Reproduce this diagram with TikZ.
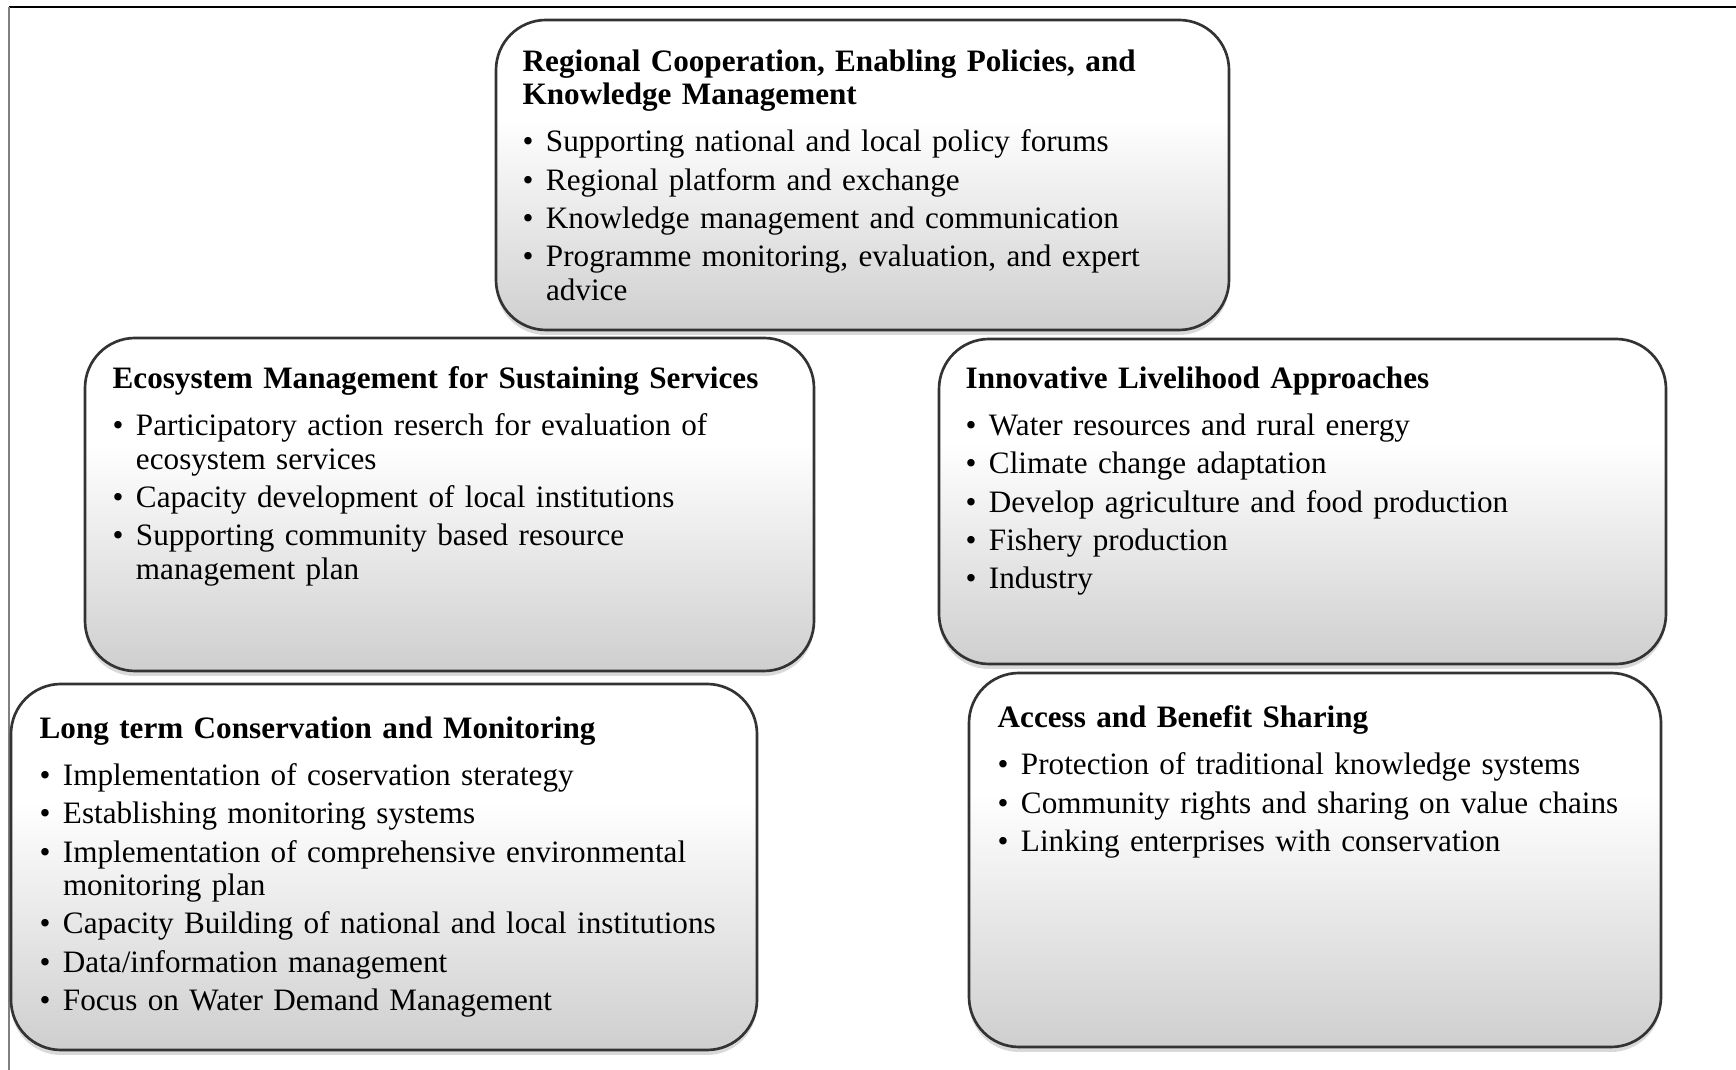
\documentclass[tikz,border=0pt]{standalone}
\usepackage{fontspec}
\setmainfont{Liberation Serif}
\usetikzlibrary{shadows}
\pgfdeclareverticalshading{cardshade}{100bp}{color(0bp)=(black!19); color(25bp)=(black!19); color(59bp)=(white); color(100bp)=(white)}
\newcommand{\cardtitle}[1]{\noindent{\bfseries #1}\par\vspace{4.2pt}}
\newcommand{\carditem}[1]{\hangindent=7pt\hangafter=1\noindent\makebox[7pt][l]{\textbullet}#1\par\vspace{1.5pt}}

\begin{document}
\begin{tikzpicture}[x=0.3pt, y=-0.3pt,
  card/.style={draw=black!80, line width=0.8pt, rounded corners=15pt, shading=cardshade,
    drop shadow={shadow xshift=0pt, shadow yshift=-1.5pt, opacity=0.3}},
  cardtext/.style={anchor=north west, inner sep=0pt, text width=#1,
    font=\fontsize{9.35pt}{10pt}\selectfont}]
  \useasboundingbox (0,0) rectangle (1736,1070);
  \draw[black, line width=0.4pt] (9,7) -- (1736,7);
  \draw[black!50, line width=0.6pt] (9,7) -- (9,1070);

  % top box
  \path[card] (496,20) rectangle (1229,330);
  \node[cardtext=208pt] (regional) at (522,49) {%
    \cardtitle{Regional Cooperation, Enabling Policies, and\newline Knowledge Management}
    \carditem{Supporting national and local policy forums}
    \carditem{Regional platform and exchange}
    \carditem{Knowledge management and communication}
    \carditem{Programme monitoring, evaluation, and expert\newline advice}};

  % middle row
  \path[card] (85,338) rectangle (814,671);
  \node[cardtext=207pt] (ecosystem) at (112,366) {%
    \cardtitle{Ecosystem Management for Sustaining Services}
    \carditem{Participatory action reserch for evaluation of\newline ecosystem services}
    \carditem{Capacity development of local institutions}
    \carditem{Supporting community based resource\newline management plan}};

  \path[card] (939,339) rectangle (1666,664);
  \node[cardtext=206pt] (livelihood) at (965,366) {%
    \cardtitle{Innovative Livelihood Approaches}
    \carditem{Water resources and rural energy}
    \carditem{Climate change adaptation}
    \carditem{Develop agriculture and food production}
    \carditem{Fishery production}
    \carditem{Industry}};

  % bottom row
  \path[card] (11,684) rectangle (757,1050);
  \node[cardtext=212pt] (conservation) at (39,716) {%
    \cardtitle{Long term Conservation and Monitoring}
    \carditem{Implementation of coservation sterategy}
    \carditem{Establishing monitoring systems}
    \carditem{Implementation of comprehensive environmental\newline monitoring plan}
    \carditem{Capacity Building of national and local institutions}
    \carditem{Data/information management}
    \carditem{Focus on Water Demand Management}};

  \path[card] (969,673) rectangle (1661,1047);
  \node[cardtext=196pt] (benefit) at (997,705) {%
    \cardtitle{Access and Benefit Sharing}
    \carditem{Protection of traditional knowledge systems}
    \carditem{Community rights and sharing on value chains}
    \carditem{Linking enterprises with conservation}};
\end{tikzpicture}
\end{document}
